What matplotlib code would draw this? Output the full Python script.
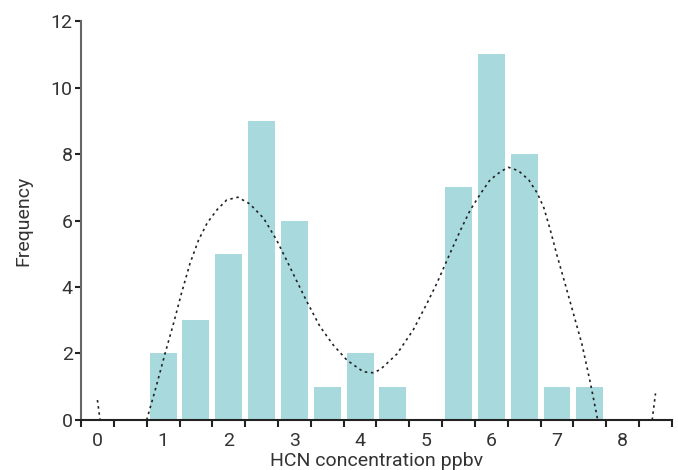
import numpy as np
import matplotlib
matplotlib.use('Agg')
import matplotlib.pyplot as plt

plt.rcParams['font.family'] = ['Roboto', 'DejaVu Sans']

# ===================== DATA =====================
bin_centers = [1.0, 1.5, 2.0, 2.5, 3.0, 3.5, 4.0, 4.5, 5.0, 5.5, 6.0, 6.5, 7.0, 7.5]
frequency = [2, 3, 5, 9, 6, 1, 2, 1, 0, 7, 11, 8, 1, 1]

# fitted curve (three visible pieces above zero)
curve_left_x = [0.0, 0.04]
curve_left_y = [0.6, 0.0]

curve_mid_x = [0.75, 0.88, 1.03, 1.16, 1.28, 1.41, 1.54, 1.67, 1.82, 1.97, 2.14,
               2.32, 2.53, 2.73, 2.88, 3.04, 3.19, 3.39, 3.59, 3.80, 4.05,
               4.20, 4.31, 4.56, 4.81, 5.02, 5.17, 5.37, 5.53, 5.68, 5.84,
               5.98, 6.14, 6.26, 6.41, 6.57, 6.70, 6.80, 6.90, 7.00, 7.13,
               7.25, 7.38, 7.51, 7.62]
curve_mid_y = [0.0, 0.90, 2.0, 2.91, 3.81, 4.71, 5.41, 5.92, 6.32, 6.62, 6.70,
               6.50, 6.07, 5.41, 4.81, 4.16, 3.56, 2.81, 2.26, 1.80, 1.45,
               1.42, 1.52, 1.98, 2.71, 3.51, 4.11, 5.01, 5.71, 6.32, 6.82,
               7.22, 7.47, 7.60, 7.50, 7.22, 6.82, 6.38, 5.70, 4.95, 4.05,
               3.20, 2.28, 1.10, 0.0]

curve_right_x = [8.45, 8.50]
curve_right_y = [0.0, 0.8]

bar_color = '#a8d9dc'
text_color = '#333333'

# ===================== PLOT =====================
fig = plt.figure(figsize=(6.78, 4.70), dpi=100)
ax = fig.add_axes([0.1195, 0.1064, 0.8715, 0.8489])

ax.bar(bin_centers, frequency, width=0.41, color=bar_color, zorder=1)

for cx, cy in [(curve_left_x, curve_left_y), (curve_mid_x, curve_mid_y),
               (curve_right_x, curve_right_y)]:
    ax.plot(cx, cy, color='#222222', lw=1.2, linestyle=(0, (1.5, 2.2)), zorder=3)

ax.set_xlim(-0.25, 8.75)
ax.set_ylim(0, 12)

# labels at integers, tick marks at bin edges
ax.set_xticks(range(0, 9))
ax.set_xticks(np.arange(-0.25, 8.76, 0.5), minor=True)
ax.tick_params(axis='x', which='major', length=0, pad=9, labelsize=14, labelcolor=text_color)
ax.tick_params(axis='x', which='minor', length=5, width=1.5, color='#222222', direction='out')
ax.set_yticks(range(0, 13, 2))
ax.tick_params(axis='y', length=4, width=1.5, color='#222222', pad=2, labelsize=14,
               labelcolor=text_color)

for s in ['top', 'right']:
    ax.spines[s].set_visible(False)
ax.spines['left'].set_color('#666666')
ax.spines['left'].set_linewidth(1.5)
ax.spines['bottom'].set_color('#222222')
ax.spines['bottom'].set_linewidth(1.5)

ax.set_xlabel('HCN concentration ppbv', fontsize=14, color=text_color, labelpad=1)
ax.set_ylabel('Frequency', fontsize=14, color=text_color, labelpad=13)

fig.savefig('out.png', dpi=100)
